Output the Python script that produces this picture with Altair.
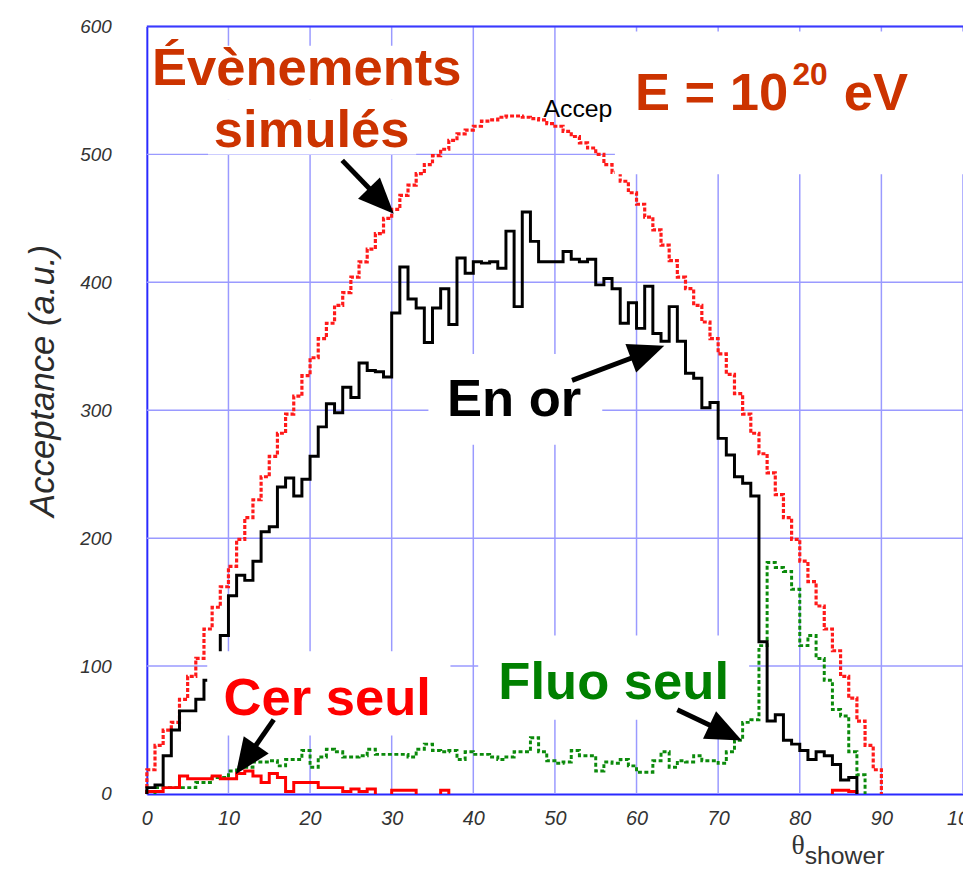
import math
import altair as alt
import pandas as pd

# ---------------- data, 1-degree bins 0..89 ----------------
simules = [19, 38, 50, 56, 74, 92, 106, 129, 146, 162,
           178, 199, 216, 230, 248, 264, 282, 297, 311, 327,
           341, 356, 368, 382, 392, 404, 416, 426, 438, 450,
           457, 468, 476, 485, 492, 499, 504, 511, 516, 519,
           522, 526, 527, 529, 530, 530, 529, 528, 527, 524,
           522, 518, 514, 509, 505, 500, 492, 486, 479, 470,
           461, 451, 441, 429, 417, 404, 395, 382, 369, 356,
           344, 328, 313, 297, 282, 266, 251, 234, 216, 199,
           182, 166, 147, 129, 112, 92, 75, 57, 38, 19]

en_or = [5, 7, 30, 50, 65, 65, 74, 89, 105, 124,
         155, 171, 167, 182, 205, 209, 240, 247, 233, 246,
         264, 287, 305, 298, 318, 310, 337, 331, 330, 326,
         376, 412, 387, 380, 353, 380, 395, 367, 419, 407,
         416, 415, 416, 411, 440, 381, 455, 432, 416, 416,
         416, 424, 418, 416, 418, 398, 403, 395, 368, 384,
         364, 397, 360, 354, 381, 354, 329, 325, 302, 306,
         278, 265, 248, 243, 233, 119, 57, 62, 42, 39,
         34, 27, 33, 30, 23, 11, 13, 0, 0, 0]

fluo_seul = [0, 5, 5, 5, 5, 5, 9, 9, 13, 13,
             18, 21, 21, 25, 25, 26, 22, 27, 27, 34,
             21, 29, 35, 33, 29, 29, 30, 35, 31, 31,
             31, 31, 29, 35, 39, 34, 33, 34, 27, 33,
             31, 31, 29, 27, 29, 33, 33, 44, 33, 26,
             24, 25, 34, 30, 30, 18, 25, 24, 27, 22,
             17, 17, 26, 33, 21, 26, 25, 30, 26, 26,
             24, 33, 42, 56, 58, 116, 181, 177, 174, 160,
             116, 124, 106, 89, 66, 61, 33, 15, 0, 0]

cer_seul = [2, 2, 5, 5, 14, 12, 12, 12, 14, 12,
            12, 16, 18, 14, 9, 16, 13, 2, 9, 9,
            9, 5, 5, 5, 2, 4, 2, 4, 0, 0,
            3, 3, 3, 0, 0, 0, 3, 0, 0, 0,
            0, 0, 0, 0, 0, 0, 0, 0, 0, 0,
            0, 0, 0, 0, 0, 0, 0, 0, 0, 0,
            0, 0, 0, 0, 0, 0, 0, 0, 0, 0,
            0, 0, 0, 0, 0, 0, 0, 0, 0, 0,
            0, 0, 0, 0, 3, 3, 2, 0, 0, 0]

x_ticks = list(range(0, 101, 10))
y_ticks = list(range(0, 601, 100))

# ---------------- geometry / styles ----------------
W, H = 823, 774
XMAX, YMAX = 100, 600
PX = W / XMAX
PY = H / YMAX
ORANGE = "#cc3300"
FONT = "Liberation Sans"
BIG = 53
GRID = "#9a9aff"

xs = alt.Scale(domain=[0, XMAX], nice=False, zero=False)
ys = alt.Scale(domain=[0, YMAX], nice=False)
xaxis = alt.Axis(values=x_ticks, grid=False, ticks=False, tickSize=0, labelPadding=15,
                 labelFlush=False, labelFont=FONT, labelFontStyle="italic", labelFontSize=20,
                 labelColor="#333333", domainColor="#2a2aff", domainWidth=2, title="")
yaxis = alt.Axis(values=y_ticks, grid=False, ticks=False, tickSize=0, labelPadding=36,
                 labelFlush=False, labelFont=FONT, labelFontStyle="italic", labelFontSize=19,
                 labelColor="#333333", domainColor="#2a2aff", domainWidth=2,
                 title="Acceptance (a.u.)", titleFont=FONT, titleFontStyle="italic",
                 titleFontWeight="normal", titleFontSize=35, titleColor="#2b2b2b",
                 titleX=-87, titleY=357, titleAngle=270, titleAlign="center",
                 titleBaseline="bottom")


def X(field="theta"):
    return alt.X(f"{field}:Q", scale=xs, axis=xaxis)


def Y(field="acc"):
    return alt.Y(f"{field}:Q", scale=ys, axis=yaxis)


def step_rows(values, name):
    rows, idx, seg, i, n = [], 0, 0, 0, len(values)
    while i < n:
        if values[i] <= 0:
            i += 1
            continue
        j = i
        while j < n and values[j] > 0:
            j += 1
        pts = [(i, 0)] + [(k, values[k]) for k in range(i, j)] + [(j, values[j - 1]), (j, 0)]
        for (t, v) in pts:
            rows.append({"theta": t, "acc": v, "seg": f"{name}-{seg}", "idx": idx})
            idx += 1
        seg += 1
        i = j
    return pd.DataFrame(rows)


def hist(values, name, color, width=3.0, dash=None):
    kw = dict(interpolate="step-after", color=color, strokeWidth=width)
    if dash:
        kw["strokeDash"] = dash
    return alt.Chart(step_rows(values, name)).mark_line(**kw).encode(
        x=X(), y=Y(), detail="seg:N", order="idx:Q")


def box(t1, t2, v1, v2):
    df = pd.DataFrame({"theta": [t1], "theta2": [t2], "acc": [v1], "acc2": [v2]})
    return alt.Chart(df).mark_rect(color="white", opacity=1).encode(
        x=X(), x2=alt.X2("theta2"), y=Y(), y2=alt.Y2("acc2"))


def label(t, v, text, size, color, weight="bold", align="center", font=FONT, style="normal"):
    df = pd.DataFrame({"theta": [t], "acc": [v]})
    return alt.Chart(df).mark_text(text=text, font=font, fontSize=size, fontWeight=weight,
                                   fontStyle=style, color=color, align=align,
                                   baseline="alphabetic").encode(x=X(), y=Y())


def arrow(tail, tip, head=1300):
    dx = (tip[0] - tail[0]) * PX
    dy = -(tip[1] - tail[1]) * PY
    L = math.hypot(dx, dy)
    ux, uy = dx / L, dy / L
    ang = math.degrees(math.atan2(dx, -dy)) % 360
    r = math.sqrt(head) / 2
    ct = tip[0] - r * ux / PX
    cv = tip[1] + r * uy / PY
    shaft = pd.DataFrame({"theta": [tail[0]], "acc": [tail[1]], "theta2": [ct], "acc2": [cv]})
    hd = pd.DataFrame({"theta": [ct], "acc": [cv]})
    s = alt.Chart(shaft).mark_rule(color="black", strokeWidth=5).encode(
        x=X(), y=Y(), x2=alt.X2("theta2"), y2=alt.Y2("acc2"))
    h = alt.Chart(hd).mark_point(shape="M0,-1L-0.85,1L0.85,1Z", filled=True, size=head,
                                 angle=ang, color="black", opacity=1, strokeWidth=0).encode(
        x=X(), y=Y())
    return s + h


vgrid = alt.Chart(pd.DataFrame({"theta": x_ticks[1:]})).mark_rule(
    color=GRID, strokeWidth=1.5).encode(x=X())
hgrid = alt.Chart(pd.DataFrame({"acc": y_ticks[1:]})).mark_rule(
    color=GRID, strokeWidth=1.5).encode(y=Y())

layers = [
    vgrid,
    hgrid,
    hist(simules, "sim", "#ff1a1a", width=3.2, dash=[4, 2]),
    hist(fluo_seul, "fluo", "#0b8a0b", width=3.0, dash=[4, 2.5]),
    hist(cer_seul, "cer", "#ff0000", width=3.0),
    hist(en_or, "gold", "black", width=3.0),
    # ROOT histogram title, cut by the white box
    label(48.6, 529, "Accep", 25, "black", weight="normal", align="left"),
    box(57.35, 100, 596, 484.5),
    box(0.5, 39.4, 585, 543),
    box(7.5, 33.0, 543, 500),
    box(34.5, 55.8, 344, 273),
    box(7.4, 37.2, 111.6, 45.7),
    box(40.6, 73.8, 124, 58),
    alt.Chart(pd.DataFrame({"acc": [YMAX]})).mark_rule(color="#3a3aff", strokeWidth=2).encode(y=Y()),
    label(19.6, 554.3, "Évènements", BIG, ORANGE),
    label(20.2, 505.4, "simulés", BIG, ORANGE),
    label(59.8, 535.0, "E = 10", BIG, ORANGE, align="left"),
    label(79.1, 554.0, "20", 32, ORANGE, align="left"),
    label(85.4, 535.0, "eV", BIG, ORANGE, align="left"),
    label(45.0, 295.3, "En or", BIG, "black"),
    label(22.1, 62.0, "Cer seul", BIG, "#ff0000"),
    label(57.2, 74.4, "Fluo seul", BIG, "#008000"),
    arrow((23.94, 495.3), (30.26, 453.5)),
    arrow((52.1, 323.3), (63.4, 350.4)),
    arrow((15.55, 58.1), (10.9, 15.5)),
    arrow((65.0, 65.9), (72.9, 41.9)),
    label(79.8, -46.5, "θ", 28, "#333333", weight="normal", font="Liberation Serif"),
    label(80.6, -54.8, "shower", 25, "#333333", weight="normal", align="left"),
]

chart = alt.layer(*layers).properties(
    width=W, height=H,
    autosize=alt.AutoSizeParams(type="none"),
    padding={"left": 140, "top": 15, "right": 0, "bottom": 72},
    background="white",
).configure_view(strokeWidth=0)

chart.save("out.html", embed_options={"renderer": "svg", "actions": False})
